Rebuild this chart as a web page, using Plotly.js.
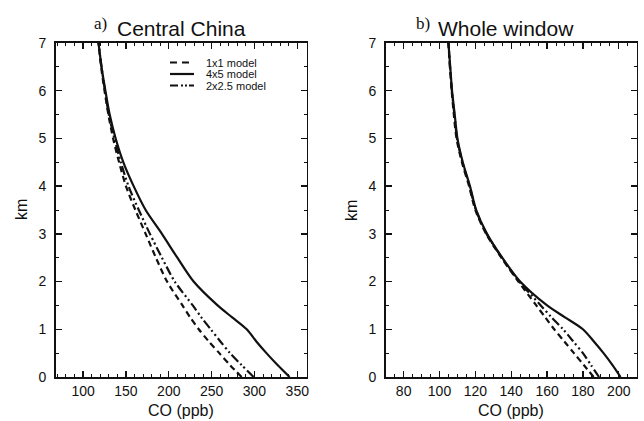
<!DOCTYPE html>
<html>
<head>
<meta charset="utf-8">
<script src="https://cdn.plot.ly/plotly-3.0.1.min.js"></script>
<style>html,body{margin:0;padding:0;background:#fff;}#chart{width:644px;height:421px;}</style>
</head>
<body>
<div id="chart"></div>
<script>
// Altitude levels (km)
const altitudeKm = [0, 0.25, 0.5, 0.75, 1, 1.25, 1.5, 2, 2.5, 3, 3.5, 4, 4.5, 5, 5.5, 6, 6.5, 7];

// Panel a) Central China, CO (ppb)
const chinaModel1x1  = [285, 271.5, 259, 246.5, 235, 225, 216, 198, 185, 173, 161, 150, 142, 135, 129.5, 125, 121, 118];
const chinaModel4x5  = [341, 327, 314, 302, 291, 274, 257, 229, 210, 192, 173, 159, 147, 138, 131, 126, 121.5, 118];
const chinaModel2x25 = [299, 285, 271.5, 260, 249, 238, 228, 207, 192, 178, 165, 153, 144, 136.5, 130, 125.5, 121.5, 118];

// Panel b) Whole window, CO (ppb)
const wholeModel1x1  = [186, 180.5, 175, 169.5, 164, 159, 154, 144, 134.5, 126, 120, 116.5, 112.5, 109.5, 108, 106.8, 105.8, 105];
const wholeModel4x5  = [201, 196.5, 191.5, 186, 180, 170, 160, 145, 135, 126.5, 120.5, 117, 113, 110, 108.5, 107, 106, 105];
const wholeModel2x25 = [189, 184.5, 180, 174.5, 169, 162.5, 156.5, 144.5, 134.8, 126.3, 120.3, 116.8, 112.8, 109.8, 108.3, 106.9, 105.9, 105];

const seriesNames = ['1x1 model', '4x5 model', '2x2.5 model'];
const panelTitles = ['Central China', 'Whole window'];
const panelLetters = ['a)', 'b)'];
const xTitle = 'CO (ppb)';
const yTitle = 'km';

const ink = '#111111';
const dashStyles = ['6px,4px', 'solid', '9px,3px,2px,3px,2px,3px'];

const panels = [
  {xs: [chinaModel1x1, chinaModel4x5, chinaModel2x25], xa: 'x', ya: 'y'},
  {xs: [wholeModel1x1, wholeModel4x5, wholeModel2x25], xa: 'x2', ya: 'y2'}
];

const traces = [];
panels.forEach(p => {
  p.xs.forEach((arr, i) => {
    traces.push({
      type: 'scatter', mode: 'lines',
      x: arr, y: altitudeKm,
      xaxis: p.xa, yaxis: p.ya,
      name: seriesNames[i], showlegend: false,
      line: {color: ink, width: 2.2, dash: dashStyles[i], shape: 'spline', smoothing: 0.8}
    });
  });
});

const W = 644, H = 421;
const plotTop = 43, plotBot = 377;
const yDom = [1 - plotBot / H, 1 - plotTop / H];

const sans = '"Liberation Sans", Arial, sans-serif';
const baseFont = {family: sans, size: 14, color: ink};

function xAxis(domain, range, dtick, minor, anchor) {
  return {
    domain: domain, range: range, dtick: dtick, tick0: 0, anchor: anchor,
    ticks: 'inside', ticklen: 6, tickwidth: 1.3, tickcolor: ink,
    minor: {ticks: 'inside', dtick: minor, ticklen: 3, tickwidth: 1, tickcolor: ink},
    showline: true, linewidth: 1.6, linecolor: ink, mirror: 'ticks',
    showgrid: false, zeroline: false, ticklabelstandoff: 1,
    tickfont: baseFont, fixedrange: true
  };
}
function yAxis(anchor) {
  return {
    domain: yDom, range: [0, 7], dtick: 1, anchor: anchor,
    ticks: 'inside', ticklen: 6, tickwidth: 1.3, tickcolor: ink,
    minor: {ticks: 'inside', dtick: 0.5, ticklen: 3, tickwidth: 1, tickcolor: ink},
    showline: true, linewidth: 1.6, linecolor: ink, mirror: 'ticks',
    showgrid: false, zeroline: false, ticklabelstandoff: 5,
    tickfont: baseFont, fixedrange: true
  };
}

const xDomA = [55.7 / W, 306.7 / W];
const xDomB = [385.7 / W, 636.7 / W];

const annotations = [];
const titleCenters = [181, 505.5];
const letterX = [92, 414];
for (let k = 0; k < 2; k++) {
  annotations.push({
    xref: 'paper', yref: 'paper', x: titleCenters[k] / W, y: 1 - 28 / H,
    xanchor: 'center', yanchor: 'middle', showarrow: false,
    text: panelTitles[k], font: {family: sans, size: 21, color: ink}
  });
  annotations.push({
    xref: 'paper', yref: 'paper', x: letterX[k] / W, y: 1 - 24 / H,
    xanchor: 'left', yanchor: 'middle', showarrow: false,
    text: panelLetters[k], font: {family: '"Liberation Serif", "Times New Roman", serif', size: 17, color: ink}
  });
  const dom = k === 0 ? xDomA : xDomB;
  annotations.push({
    xref: 'paper', yref: 'paper', x: (dom[0] + dom[1]) / 2, y: 1 - 410 / H,
    xanchor: 'center', yanchor: 'middle', showarrow: false,
    text: xTitle, font: {family: sans, size: 16, color: ink}
  });
  annotations.push({
    xref: 'paper', yref: 'paper', x: (k === 0 ? 21 : 351) / W, y: 1 - 210 / H,
    xanchor: 'center', yanchor: 'middle', showarrow: false, textangle: -90,
    text: yTitle, font: {family: sans, size: 16, color: ink}
  });
}

// Legend (panel a, top right)
const shapes = [];
const legRowsPx = [62.5, 74, 85.5];
const legX0 = (170 - 55.7) / 251, legX1 = (194 - 55.7) / 251, legTx = (205 - 55.7) / 251;
seriesNames.forEach((nm, i) => {
  const yy = (plotBot - legRowsPx[i]) / (plotBot - plotTop) * 7;
  shapes.push({
    type: 'line', xref: 'x domain', yref: 'y', x0: legX0, x1: legX1, y0: yy, y1: yy,
    line: {color: ink, width: 2.2, dash: i === 0 ? '7px,5px' : (i === 1 ? 'solid' : '8px,3px,2px,2px,2px,2px')}
  });
  annotations.push({
    xref: 'x domain', yref: 'y', x: legTx, y: yy, xanchor: 'left', yanchor: 'middle',
    showarrow: false, text: nm, borderpad: 0,
    font: {family: sans, size: 11, color: ink}
  });
});

const layout = {
  width: W, height: H,
  margin: {l: 0, r: 0, t: 0, b: 0},
  paper_bgcolor: '#fff', plot_bgcolor: '#fff',
  font: baseFont,
  showlegend: false,
  xaxis: xAxis(xDomA, [68, 361], 50, 10, 'y'),
  yaxis: yAxis('x'),
  xaxis2: xAxis(xDomB, [70, 210], 20, 5, 'y2'),
  yaxis2: yAxis('x2'),
  annotations: annotations,
  shapes: shapes
};

Plotly.newPlot('chart', traces, layout, {displayModeBar: false, staticPlot: true});
</script>
</body>
</html>
